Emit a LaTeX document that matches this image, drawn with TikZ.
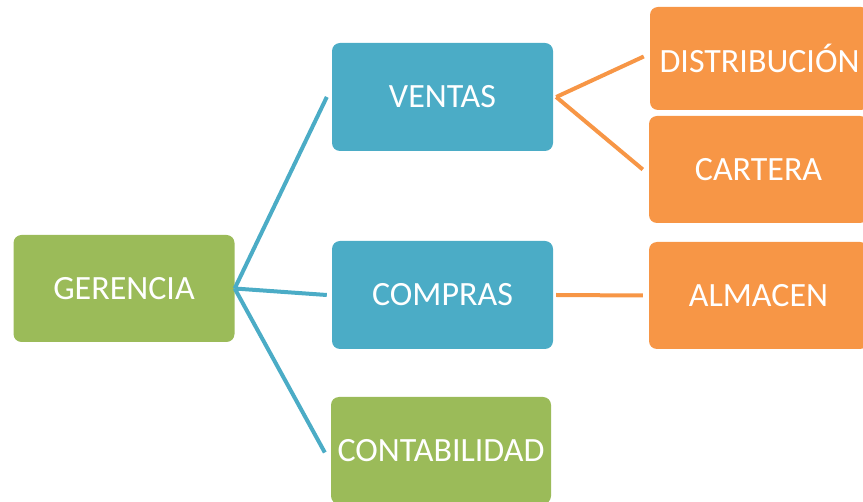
\documentclass[tikz,border=0pt]{standalone}
\usepackage{fontspec}
\setmainfont{Carlito}
\definecolor{cgreen}{HTML}{9BBB59}
\definecolor{cblue}{HTML}{4BACC6}
\definecolor{corange}{HTML}{F79646}
\tikzset{
  box/.style={rectangle, rounded corners=8pt, inner sep=0pt, text=white,
    font=\fontsize{34}{40}\selectfont, minimum width=#1},
  box/.default=221pt,
  gbox/.style={box, fill=cgreen},
  bbox/.style={box, fill=cblue},
  obox/.style={box=219pt, fill=corange},
  bline/.style={draw=cblue, line width=4pt},
  oline/.style={draw=corange, line width=4pt},
}
\begin{document}
\begin{tikzpicture}[x=1pt, y=-1pt]
\useasboundingbox (0,0) rectangle (863,502);
\clip (0,0) rectangle (863,502);
\node[gbox, minimum height=107pt] (ger) at (124,288.5) {GERENCIA};
\node[bbox, minimum height=108pt] (ven) at (442.5,97) {VENTAS};
\node[bbox, minimum height=108pt] (com) at (442.5,295) {COMPRAS};
\node[gbox, box=220pt, minimum height=107pt] (con) at (441,450.5) {CONTABILIDAD};
\node[obox, minimum height=103pt] (dis) at (759.5,58.5) {DISTRIBUCIÓN};
\node[obox, minimum height=107pt] (car) at (758.5,169.5) {CARTERA};
\node[obox, minimum height=107pt] (alm) at (758.5,295.5) {ALMACEN};
\draw[bline] (ger.east) -- ([xshift=-5pt]ven.west);
\draw[bline] (ger.east) -- ([xshift=-5pt]com.west);
\draw[bline] (ger.east) -- ([xshift=-6pt,yshift=-2pt]con.west);
\draw[oline] ([xshift=3pt]ven.east) -- ([xshift=-6pt,yshift=2pt]dis.west);
\draw[oline] ([xshift=3pt]ven.east) -- ([xshift=-6pt]car.west);
\draw[oline] ([xshift=3pt]com.east) -- ([xshift=-6pt]alm.west);
\end{tikzpicture}
\end{document}
